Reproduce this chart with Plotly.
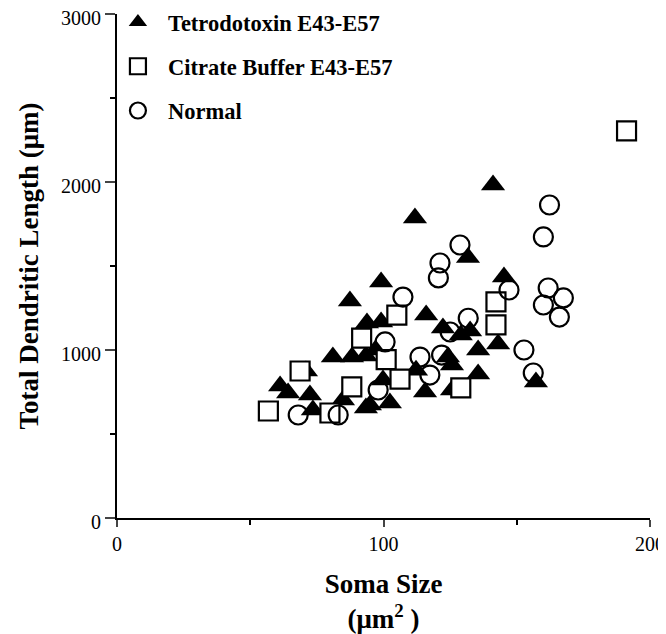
import plotly.graph_objects as go

# Tetrodotoxin E43-E57 (filled triangles)
ttx_x = [141.1, 111.8, 131.7, 145.2, 99.1, 87.4, 116.0, 93.8, 99.1, 122.3, 132.5, 81.0, 88.2, 93.4,
         135.5, 143.0, 124.2, 125.7, 135.5, 157.2, 99.8, 70.9, 61.2, 64.2, 72.4, 84.8, 73.5, 94.9,
         102.4, 93.4, 112.2, 125.7, 115.6, 97.0, 129.0]
ttx_y = [1982, 1786, 1550, 1435, 1405, 1292, 1208, 1160, 1167, 1131, 1113, 958, 958, 964,
         1000, 1036, 958, 911, 857, 810, 821, 875, 786, 744, 732, 702, 643, 673,
         684, 655, 880, 762, 750, 1000, 1090]

# Citrate Buffer E43-E57 (open squares)
cit_x = [191.2, 142.2, 142.2, 105.0, 91.8, 101.0, 68.7, 88.1, 56.8, 79.9, 106.2, 129.0]
cit_y = [2304, 1286, 1149, 1208, 1071, 943, 875, 780, 637, 625, 827, 774]

# Normal (open circles)
nor_x = [162.3, 160.0, 128.7, 121.2, 120.6, 147.1, 107.3, 161.8, 167.5, 160.0, 166.0, 131.8,
         152.7, 156.2, 125.0, 113.7, 121.8, 117.4, 100.6, 98.0, 68.0, 83.0]
nor_y = [1863, 1673, 1625, 1518, 1429, 1357, 1315, 1369, 1310, 1268, 1196, 1189,
         1000, 863, 1107, 958, 970, 851, 1048, 762, 613, 613]

SERIF = "Liberation Serif"

fig = go.Figure()
fig.add_trace(go.Scatter(
    x=ttx_x, y=ttx_y, mode="markers", name="Tetrodotoxin E43-E57", legendgroup="a",
    marker=dict(symbol="triangle-up", size=21, color="black", line=dict(width=0))))
fig.add_trace(go.Scatter(
    x=cit_x, y=cit_y, mode="markers", name="Citrate Buffer E43-E57", legendgroup="b",
    marker=dict(symbol="square", size=19, color="white", line=dict(color="black", width=2.2))))
fig.add_trace(go.Scatter(
    x=nor_x, y=nor_y, mode="markers", name="Normal", legendgroup="c",
    marker=dict(symbol="circle", size=19, color="rgba(0,0,0,0)", line=dict(color="black", width=2.2))))

# the page body adds an 8px offset, so the figure is smaller and margins shifted
fig.update_layout(
    width=658, height=626,
    margin=dict(l=109, r=16, t=6, b=116, autoexpand=False),
    paper_bgcolor="white", plot_bgcolor="white",
    font=dict(family=SERIF, color="black", size=20),
    showlegend=True,
    legend=dict(x=-0.017, y=1.026, xanchor="left", yanchor="top",
                font=dict(family=SERIF, size=22.5, color="black", weight="bold"),
                bgcolor="rgba(0,0,0,0)", tracegroupgap=12, itemsizing="trace", itemwidth=50),
    xaxis=dict(range=[0, 200], tickvals=[0, 100, 200], ticks="outside", ticklen=7, tickwidth=2,
               showline=True, linecolor="black", linewidth=2, showgrid=False, zeroline=False,
               automargin=True, ticklabeloverflow="allow", tickfont=dict(family=SERIF, size=20),
               minor=dict(tickvals=[50, 150], ticks="outside", ticklen=5, tickwidth=2, tickcolor="black"),
               title=dict(text="Soma Size<br>(μm<sup>2</sup> )",
                          font=dict(family=SERIF, size=27, weight="bold"), standoff=30)),
    yaxis=dict(range=[0, 3000], tickvals=[0, 1000, 2000, 3000], ticks="outside", ticklen=10, tickwidth=2,
               showline=True, linecolor="black", linewidth=2, showgrid=False, zeroline=False,
               automargin=False, ticklabeloverflow="allow", ticklabelshift=4,
               tickfont=dict(family=SERIF, size=20),
               minor=dict(tickvals=[500, 1500, 2500], ticks="outside", ticklen=5, tickwidth=2, tickcolor="black"),
               title=dict(text="Total Dendritic Length (μm)",
                          font=dict(family=SERIF, size=27, weight="bold"))),
)

fig.write_html("out.html")
